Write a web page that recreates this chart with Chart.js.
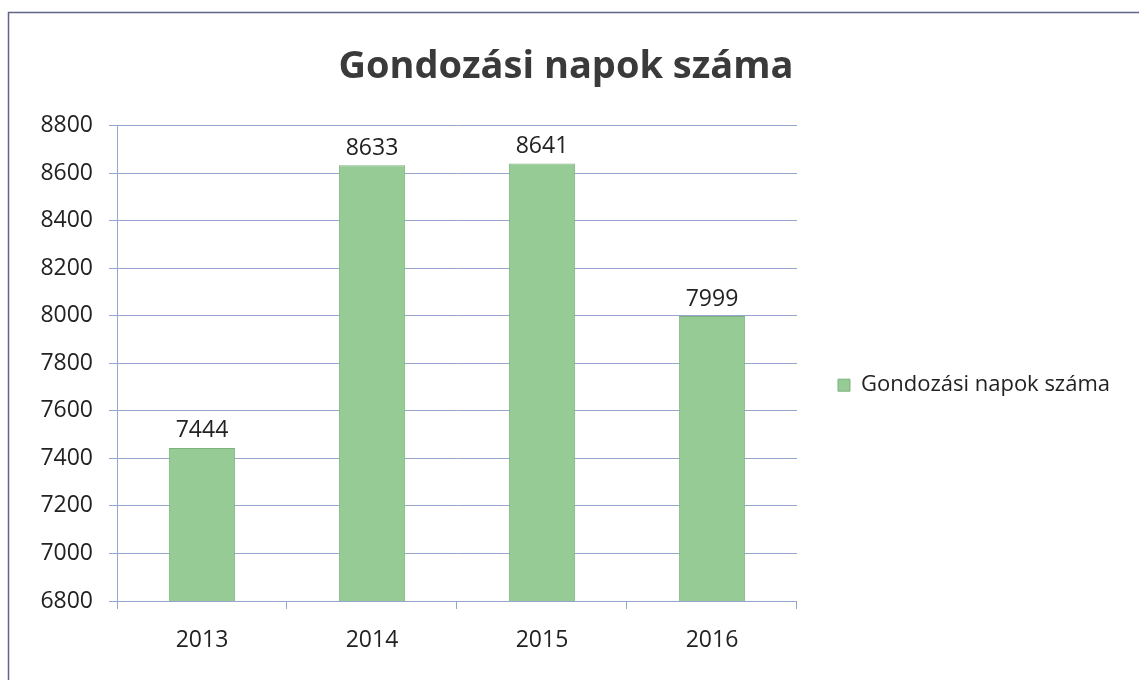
<!DOCTYPE html>
<html>
<head>
<meta charset="utf-8">
<script src="https://cdn.jsdelivr.net/npm/chart.js@4"></script>
<style>
  html, body { margin: 0; padding: 0; background: #fff; }
  #wrap { width: 1139px; height: 680px; }
</style>
</head>
<body>
<div id="wrap"><canvas id="canvas" width="1139" height="680"></canvas></div>
<script>
var years = ['2013', '2014', '2015', '2016'];
var napok = [7444, 8633, 8641, 7999];
var seriesName = 'Gondozási napok száma';
var yMin = 6800, yMax = 8800, yStep = 200;

var fontFam = '"Open Sans", Lato, sans-serif';
var gridColor = 'rgb(150,165,205)';
var legendFont = 22;
var legendGap = 41;     // space between plot area and legend square
var plotRight = 797;    // right edge of the plot area

// frame round the chart
var framePlugin = {
  id: 'frame',
  beforeDraw: function(chart){
    var ctx = chart.ctx;
    ctx.save();
    ctx.strokeStyle = 'rgb(95,100,135)';
    ctx.lineWidth = 1.5;
    ctx.beginPath();
    ctx.moveTo(8.5, 700);
    ctx.lineTo(8.5, 12.5);
    ctx.lineTo(1150, 12.5);
    ctx.stroke();
    ctx.restore();
  }
};

// value labels above the bars
var valuePlugin = {
  id: 'values',
  afterDatasetsDraw: function(chart){
    var ctx = chart.ctx;
    var meta = chart.getDatasetMeta(0);
    ctx.save();
    ctx.font = '23px ' + fontFam;
    ctx.fillStyle = '#222';
    ctx.textAlign = 'center';
    ctx.textBaseline = 'middle';
    meta.data.forEach(function(bar, i){
      ctx.fillText(String(napok[i]), bar.x, bar.y - 17);
    });
    ctx.restore();
  }
};

function draw(){
  var ctx = document.getElementById('canvas').getContext('2d');
  // work out the right padding so the plot area ends where the reference's does
  ctx.font = legendFont + 'px ' + fontFam;
  var itemW = 12 + legendFont / 2 + ctx.measureText(seriesName).width;
  var padRight = Math.max(0, Math.round(1139 - plotRight - (itemW + legendGap + 10)));

  var chart = new Chart(ctx, {
    type: 'bar',
    data: {
      labels: years,
      datasets: [{
        label: seriesName,
        data: napok,
        backgroundColor: 'rgb(150,203,150)',
        borderColor: 'rgb(125,178,125)',
        borderWidth: 1,
        barPercentage: 0.39,
        categoryPercentage: 1
      }]
    },
    options: {
      responsive: false,
      animation: false,
      layout: { padding: { top: 12, left: 12, right: padRight, bottom: 0 } },
      plugins: {
        title: {
          display: true,
          text: seriesName,
          color: '#3a3a3a',
          font: { family: fontFam, size: 38, weight: 'bold' },
          padding: { top: 32, bottom: 36 }
        },
        legend: {
          position: 'right',
          maxWidth: 500,
          title: { display: true, text: ' ', font: { size: 12 }, padding: { top: 32, bottom: 32 } },
          labels: {
            color: '#222',
            font: { family: fontFam, size: legendFont },
            boxWidth: 12,
            boxHeight: 12,
            padding: legendGap
          }
        },
        tooltip: { enabled: false }
      },
      scales: {
        x: {
          grid: { offset: true, drawOnChartArea: false, drawTicks: true, tickLength: 8, color: gridColor },
          border: { display: true, color: gridColor },
          ticks: { color: '#222', font: { family: fontFam, size: 23 }, padding: 18 },
          afterFit: function(scale){ scale.height = 79; }
        },
        y: {
          min: yMin,
          max: yMax,
          ticks: {
            stepSize: yStep,
            color: '#222',
            font: { family: fontFam, size: 23 },
            padding: 16,
            callback: function(v){ return String(v); }
          },
          grid: { color: gridColor, tickLength: 8 },
          border: { display: true, color: gridColor },
          afterFit: function(scale){ scale.width = 105; }
        }
      }
    },
    plugins: [framePlugin, valuePlugin]
  });
}

Promise.all([
  document.fonts.load('22px "Open Sans"'),
  document.fonts.load('bold 38px "Open Sans"')
]).then(draw, draw);
</script>
</body>
</html>
